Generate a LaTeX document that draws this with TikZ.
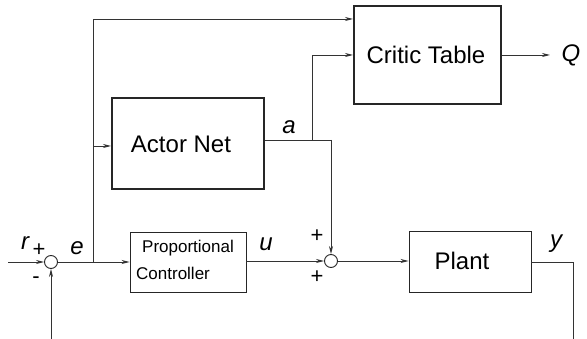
\documentclass[tikz,border=0pt]{standalone}
\usepackage{fontspec}
\setmainfont{Liberation Sans}
\usetikzlibrary{arrows.meta,calc}
\begin{document}
\begin{tikzpicture}[x=1pt,y=-1pt,
  wire/.style={draw=black!80,line width=0.9pt},
  arr/.style={wire,-{Stealth[length=8pt,width=4pt,inset=2.5pt]}},
  thickbox/.style={draw=black!85,line width=2pt,rectangle,inner sep=0pt},
  thinbox/.style={draw=black!85,line width=0.9pt,rectangle,inner sep=0pt},
  big/.style={font=\fontsize{24}{28}\selectfont,inner sep=0pt},
  junction/.style={draw=black!85,line width=0.9pt,circle,minimum size=13pt,inner sep=0pt,fill=white},
  sig/.style={font=\fontsize{24}{28}\selectfont\itshape,inner sep=0pt},
  sgn/.style={font=\fontsize{22}{26}\selectfont,inner sep=0pt},
  small/.style={font=\fontsize{17}{20}\selectfont,inner sep=0pt,anchor=base west}]
\useasboundingbox (0,0) rectangle (587,339);

% blocks
\node[thickbox,minimum width=147pt,minimum height=98pt] (critic) at (427.5,55) {};
\node[big] (criticT) at (426,55) {Critic Table};
\node[thickbox,minimum width=152pt,minimum height=91pt] (actor) at (188,143.5) {};
\node[big] (actorT) at (181,144.5) {Actor Net};
\node[thinbox,minimum width=116pt,minimum height=60pt] (ctrl) at (188,262) {};
\node[small] (ctrlA) at (142,253) {Proportional};
\node[small] (ctrlB) at (136,280) {Controller};
\node[thinbox,minimum width=122pt,minimum height=61pt] (plant) at (470,261.5) {};
\node[big] (plantT) at (462,260.5) {Plant};

% summing junctions
\node[junction] (s1) at (51,262) {};
\node[junction] (s2) at (331,261) {};

% helper points
\coordinate (rin) at (8,262);
\coordinate (fbl) at (51,339);
\coordinate (ebr) at (93,262);
\coordinate (etop) at (93,19);
\coordinate (eact) at (93,146);
\coordinate (aend) at (331,140);
\coordinate (abr) at (312,140);
\coordinate (ytop) at (573,262);
\coordinate (ybot) at (573,339);
\coordinate (qend) at (550,55);

% connectors
\draw[arr] (rin) -- (s1.west);
\draw[arr] (fbl) -- (s1.south);
\draw[arr] (s1.east) -- (ctrl.west |- s1.east);
\draw[wire] (ebr) -- (etop);
\draw[arr] (etop) -- (critic.west |- etop);
\draw[arr] (eact) -- (actor.west |- eact);
\draw[wire] (actor.east |- aend) -- (aend);
\draw[arr] (aend) -- (s2.north);
\draw[arr] (abr) |- (critic.west |- qend);
\draw[arr] (ctrl.east |- s2.west) -- (s2.west);
\draw[arr] (s2.east) -- (plant.west |- s2.east);
\draw[wire] (plant.east |- ytop) -- (ytop) -- (ybot);
\draw[arr] (critic.east) -- (qend);

% signal labels
\node[sig] (lr) at (25,243) {r};
\node[sig] (le) at (77,248) {e};
\node[sig] (lu) at (266,244) {u};
\node[sig] (la) at (289,127) {a};
\node[sig] (ly) at (556,244) {y};
\node[sig] (lq) at (571,55) {Q};

% signs at the junctions
\node[sgn] (p1) at (39,250) {+};
\node[sgn] (m1) at (36,280) {-};
\node[sgn] (p2) at (317,236) {+};
\node[sgn] (p3) at (317,277) {+};
\end{tikzpicture}
\end{document}
